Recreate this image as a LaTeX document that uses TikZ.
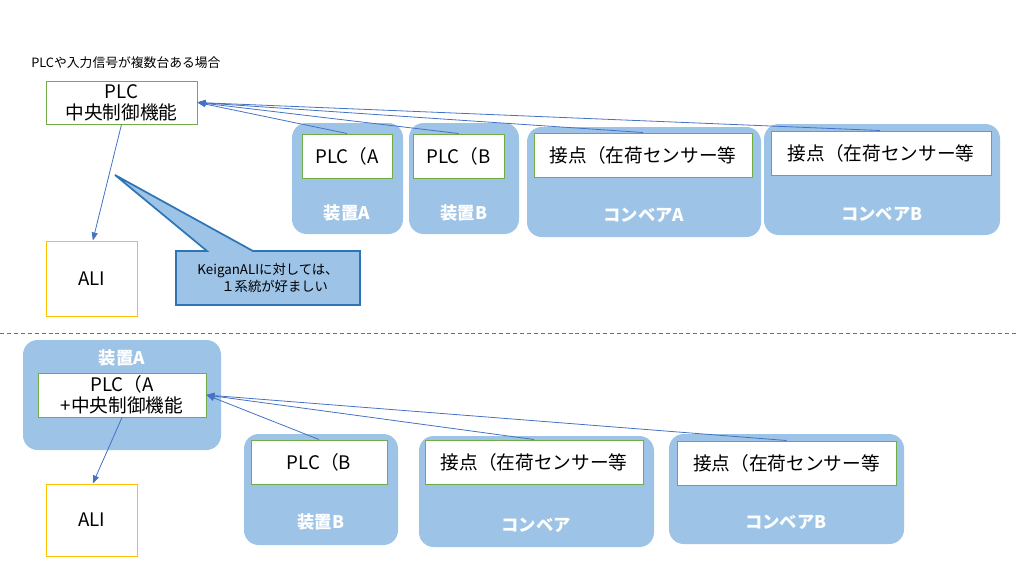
\documentclass[tikz,border=0pt]{standalone}
\usepackage{fontspec}
\setmainfont{Noto Sans CJK JP}
\usetikzlibrary{arrows.meta}
\definecolor{boxblue}{HTML}{9DC3E6}
\definecolor{lineblue}{HTML}{4472C4}
\definecolor{callborder}{HTML}{2E75B6}
\definecolor{plcgreen}{HTML}{70AD47}
\definecolor{aliyellow}{HTML}{FFC000}
\tikzset{
  px/.style={x=0.75pt,y=-0.75pt},
  wh/.style 2 args={minimum width=#1*0.75pt,minimum height=#2*0.75pt},
  group/.style={fill=boxblue,draw=none,rounded corners=11pt,inner sep=0pt},
  inbox/.style={draw=plcgreen,fill=white,line width=0.75pt,inner sep=0pt,align=center,font=\fontsize{14pt}{16pt}\selectfont},
  alibox/.style={draw=aliyellow,fill=white,line width=0.75pt,inner sep=0pt,font=\fontsize{14pt}{16pt}\selectfont},
  glabel/.style={text=white,font=\fontsize{13pt}{15pt}\selectfont\bfseries,inner sep=0pt},
  conn/.style={draw=lineblue,line width=0.6pt,-{Triangle[length=6pt,width=4.5pt]}},
}
\begin{document}
\begin{tikzpicture}[px]
\useasboundingbox (0,0) rectangle (1019,572);
% title
\node[font=\fontsize{9.6pt}{11pt}\selectfont,anchor=west,inner sep=0pt] (title) at (31,63) {PLCや入力信号が複数台ある場合};
% ---------- top section ----------
\node[inbox,wh={151}{43}] (plc) at (121.5,102.5) {PLC\\中央制御機能};
\node[alibox,wh={91}{75}] (ali) at (91.5,278.5) {ALI};
\node[group,wh={111}{111}] (sa) at (347.5,178.5) {};
\node[group,wh={110}{111}] (sb) at (464,178.5) {};
\node[group,wh={234}{110}] (ca) at (644,182) {};
\node[group,wh={236}{111}] (cb) at (882,179.5) {};
\node[inbox,wh={90}{44}] (plcA) at (347,156) {PLC（A};
\node[inbox,wh={91}{44}] (plcB) at (458.5,156) {PLC（B};
\node[inbox,wh={218}{44}] (ta) at (643,155) {接点（在荷センサー等};
\node[inbox,wh={220}{44}] (tb) at (881,153) {接点（在荷センサー等};
\node[glabel] (lsa) at (347,213) {装置A};
\node[glabel] (lsb) at (464,213) {装置B};
\node[glabel] (lca) at (644,215) {コンベアA};
\node[glabel] (lcb) at (882,214) {コンベアB};
\draw[conn] (plcA.north) -- (plc.east);
\draw[conn] (plcB.north) -- (plc.east);
\draw[conn] (ta.north) -- (plc.east);
\draw[conn] ([xshift=-0.75pt]tb.north) -- (plc.east);
\draw[conn] (plc.south) -- ([xshift=1pt]ali.north);
% callout
\coordinate (tip) at (115,175);
\draw[fill=boxblue,draw=callborder,line width=1.3pt,line join=miter]
  (176,251) -- (207,251) -- (tip) -- (253,251) -- (360,251) -- (360,305) -- (176,305) -- cycle;
\node[align=center,font=\fontsize{10pt}{13pt}\selectfont,inner sep=0pt] (note) at (268,278) {KeiganALIに対しては、\\　１系統が好ましい};
% separator
\coordinate (sepl) at (0,333);
\coordinate (sepr) at (1019,333);
\draw[lineblue,line width=0.75pt,dash pattern=on 3pt off 2.2pt] (sepl) -- (sepr);
% ---------- bottom section ----------
\node[group,wh={198}{110}] (sa2) at (122,395) {};
\node[glabel] (lsa2) at (122,358) {装置A};
\node[inbox,wh={168}{44}] (plc2) at (122,395) {PLC（A\\+中央制御機能};
\node[alibox,wh={91}{72}] (ali2) at (91.5,520) {ALI};
\node[group,wh={154}{111}] (sb2) at (321,489.5) {};
\node[group,wh={235}{111}] (c2) at (536.5,491.5) {};
\node[group,wh={235}{110}] (cb2) at (786.5,489) {};
\node[inbox,wh={136}{44}] (plcB2) at (319,462) {PLC（B};
\node[inbox,wh={218}{44}] (t2) at (534,462) {接点（在荷センサー等};
\node[inbox,wh={219}{44}] (tb2) at (786.5,463) {接点（在荷センサー等};
\node[glabel] (lsb2) at (321,522) {装置B};
\node[glabel] (lc2) at (536,525) {コンベア};
\node[glabel] (lcb2) at (786,522) {コンベアB};
\draw[conn] (plcB2.north) -- (plc2.east);
\draw[conn] (t2.north) -- (plc2.east);
\draw[conn] (tb2.north) -- (plc2.east);
\draw[conn] (plc2.south) -- ([xshift=1pt]ali2.north);
\end{tikzpicture}
\end{document}
